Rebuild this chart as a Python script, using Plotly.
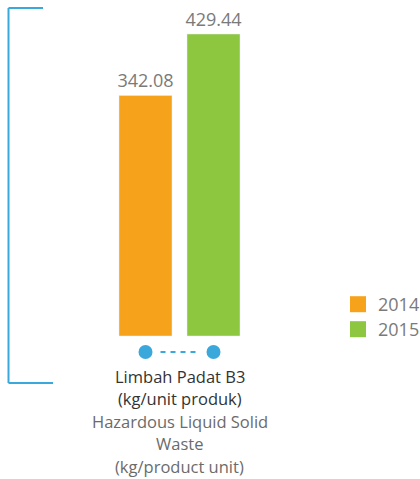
import plotly.graph_objects as go

# Data
category = ["Limbah Padat B3"]
years = ["2014", "2015"]
values_2014 = [342.08]
values_2015 = [429.44]
label_id = ["Limbah Padat B3", "(kg/unit produk)"]
label_en = ["Hazardous Liquid Solid", "Waste", "(kg/product unit)"]

ORANGE = "#F7A21B"
GREEN = "#8DC63F"
BLUE = "#3AA8DB"
GREY_TXT = "#7A7A7A"
FONT = "Open Sans"

W, H = 420, 479
BASE_PX = 336          # baseline pixel row
PX_PER_UNIT = 302 / 429.44
GROUP_PX = 121         # pixels per category unit
CAT_CENTER_PX = 179.5

bar_w = 53 / GROUP_PX
off_a = (119 - CAT_CENTER_PX) / GROUP_PX
off_b = (187 - CAT_CENTER_PX) / GROUP_PX

fig = go.Figure()
series = [(values_2014, years[0], ORANGE, off_a, "legend"),
          (values_2015, years[1], GREEN, off_b, "legend2")]
for vals, name, color, off, leg in series:
    fig.add_trace(go.Bar(
        x=category, y=vals, name=name, marker_color=color,
        width=bar_w, offset=off, showlegend=False,
        texttemplate="%{y:.2f}", textposition="outside",
        constraintext="none",
        textfont=dict(size=18, color=GREY_TXT, family=FONT),
        cliponaxis=False,
    ))
    # legend entry as a square marker, each in its own legend box
    fig.add_trace(go.Scatter(
        x=[None], y=[None], mode="markers", name=name,
        marker=dict(symbol="square", size=16, color=color),
        legend=leg,
    ))

x_lo = (0 - CAT_CENTER_PX) / GROUP_PX
x_hi = (W - CAT_CENTER_PX) / GROUP_PX
y_lo = -(H - BASE_PX) / PX_PER_UNIT
y_hi = BASE_PX / PX_PER_UNIT

shapes = []
# bracket on the left
for x0, y0, x1, y1 in [(8.5, 8, 8.5, 383), (8.5, 8, 43, 8), (8.5, 383, 53, 383)]:
    shapes.append(dict(type="line", xref="paper", yref="paper",
                       x0=x0 / W, x1=x1 / W, y0=1 - y0 / H, y1=1 - y1 / H,
                       line=dict(color=BLUE, width=2)))
# dots under each bar joined by a dashed line
centers = [off_a + bar_w / 2, off_b + bar_w / 2]
for c in centers:
    shapes.append(dict(type="circle", xref="x", yref="y",
                       xsizemode="pixel", ysizemode="pixel",
                       xanchor=c, yanchor=0,
                       x0=-7, x1=7, y0=-23, y1=-9,
                       fillcolor=BLUE, line=dict(width=0)))
shapes.append(dict(type="line", xref="x", yref="y", ysizemode="pixel", yanchor=0,
                   x0=centers[0] + 15 / GROUP_PX, x1=centers[1] - 15 / GROUP_PX,
                   y0=-16, y1=-16, line=dict(color=BLUE, width=2, dash="5px,5px")))

annotations = []
rows = [(t, "#333333") for t in label_id] + [(t, "#6B6B6B") for t in label_en]
for i, (t, col) in enumerate(rows):
    y_px = 376 + i * 22.5
    annotations.append(dict(text=t, x=0, xref="x", y=1 - y_px / H, yref="paper",
                            yanchor="middle", xanchor="center", showarrow=False,
                            font=dict(size=16.5, color=col, family=FONT)))

legend_style = dict(xanchor="left", yanchor="top", x=338 / W,
                    font=dict(size=18, color=GREY_TXT, family=FONT),
                    bgcolor="rgba(0,0,0,0)")

fig.update_layout(
    width=W, height=H, margin=dict(l=0, r=0, t=0, b=0, autoexpand=False),
    paper_bgcolor="white", plot_bgcolor="white",
    xaxis=dict(range=[x_lo, x_hi], visible=False, type="category"),
    yaxis=dict(range=[y_lo, y_hi], visible=False),
    shapes=shapes, annotations=annotations,
    legend=dict(y=1 - 286 / H, **legend_style),
    legend2=dict(y=1 - 311 / H, **legend_style),
    font=dict(family=FONT),
)

fig.write_html("out.html")
